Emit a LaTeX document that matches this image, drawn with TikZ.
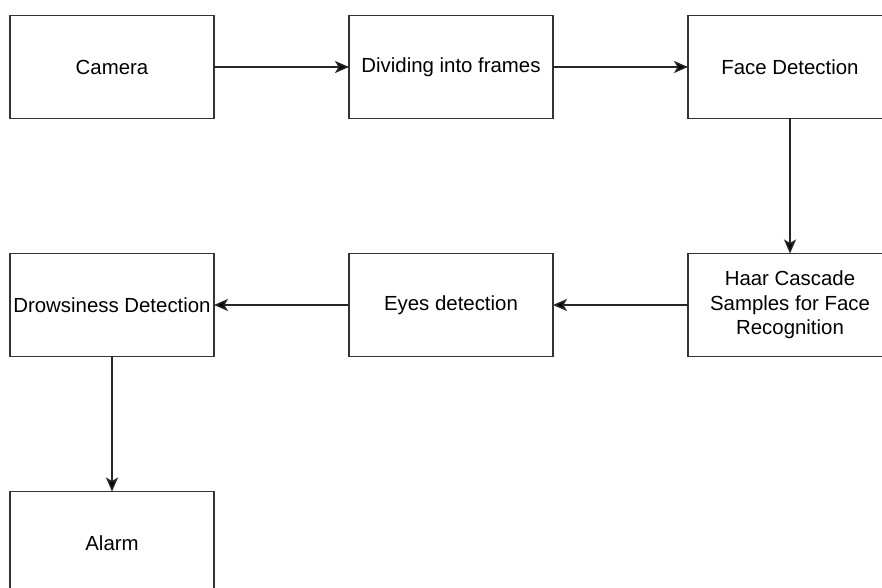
\documentclass[tikz,border=0pt]{standalone}
\usepackage{fontspec}
\setmainfont{Liberation Sans}
\usetikzlibrary{arrows.meta,positioning}

\begin{document}
\begin{tikzpicture}[%
>={Stealth[length=14pt,width=12pt,inset=3.5pt]},
node distance=135pt,
block/.style={draw=black!80, line width=1.5pt, minimum width=204pt,
  minimum height=103pt, align=center, inner sep=0pt, outer sep=0pt,
  font=\fontsize{20.4}{24.5}\selectfont},
flow/.style={->, draw=black!85, line width=1.5pt}
]

\useasboundingbox (0,0) rectangle (882pt,-588pt);

\node[block] (cam) at (112pt,-67pt) {Camera};
\node[block] (frames) [right=of cam] {Dividing into frames};
\node[block] (face) [right=of frames] {Face Detection};
\node[block] (haar) [below=of face] {Haar Cascade\\Samples for Face\\Recognition};
\node[block] (eyes) [left=of haar] {Eyes detection};
\node[block] (drowsy) [left=of eyes] {Drowsiness Detection};
\node[block] (alarm) [below=of drowsy] {Alarm};

\path[flow] (cam) edge (frames);
\path[flow] (frames) edge (face);
\path[flow] (face) edge (haar);
\path[flow] (haar) edge (eyes);
\path[flow] (eyes) edge (drowsy);
\path[flow] (drowsy) edge (alarm);

\end{tikzpicture}
\end{document}
